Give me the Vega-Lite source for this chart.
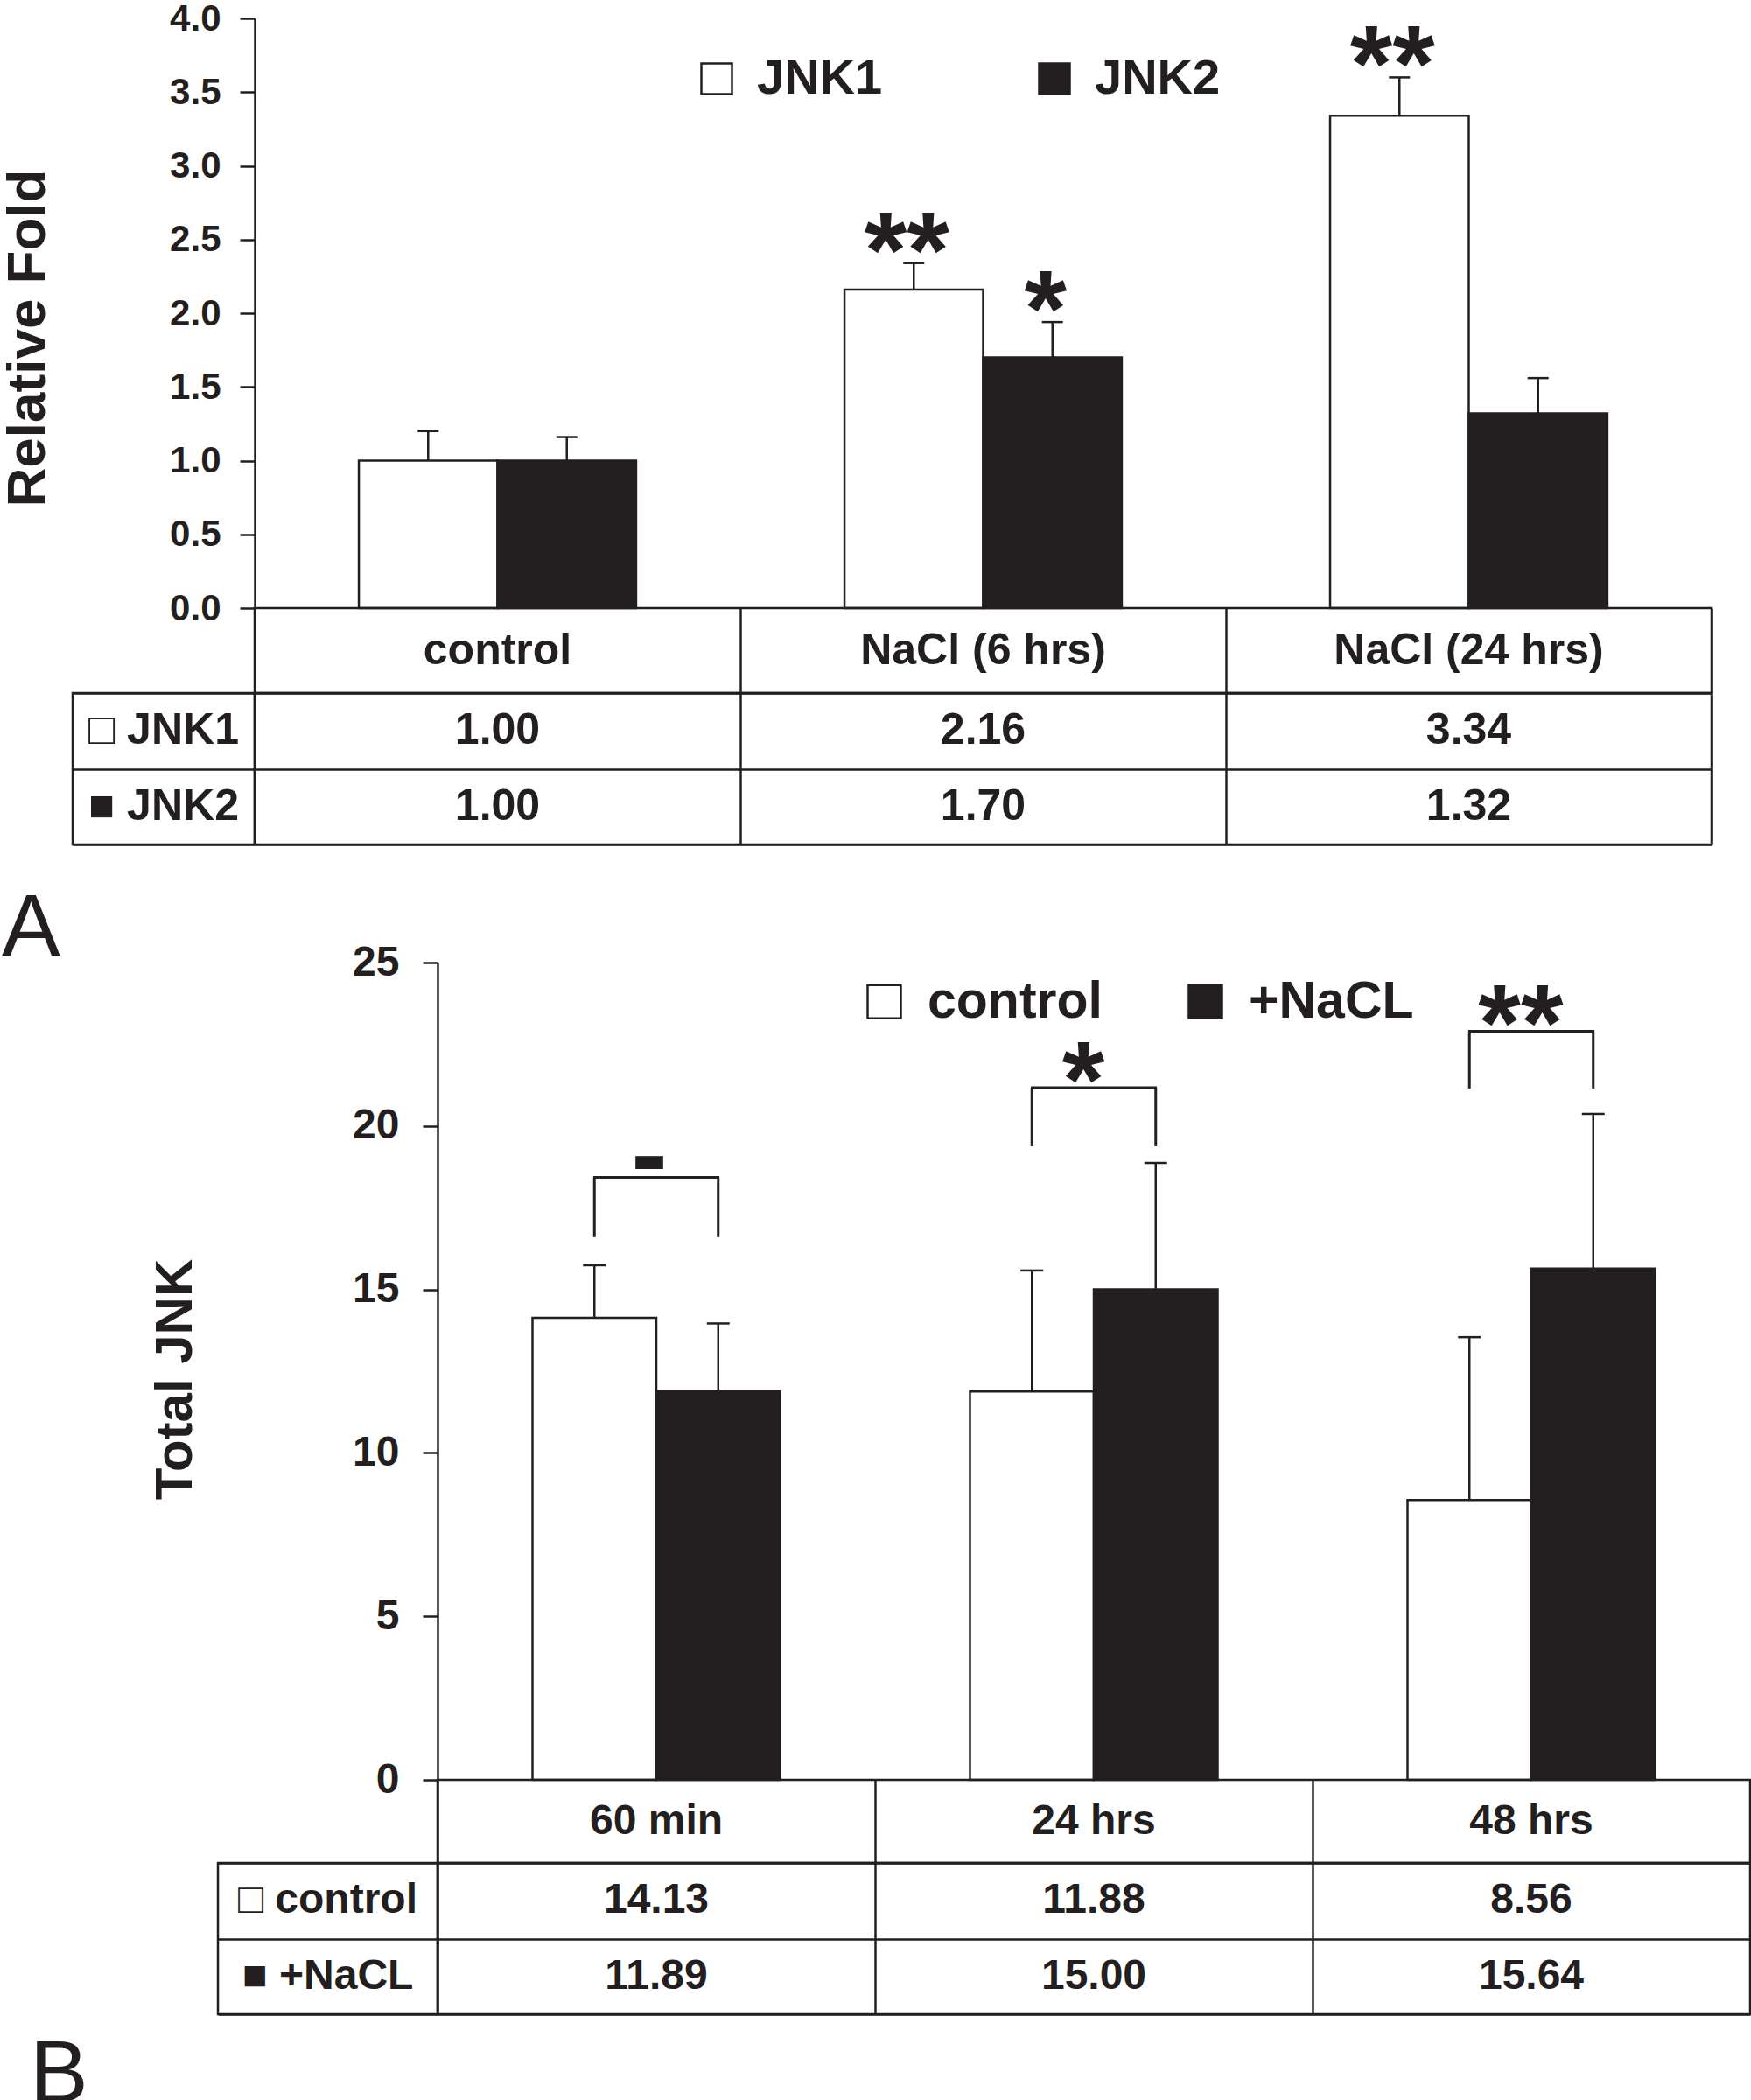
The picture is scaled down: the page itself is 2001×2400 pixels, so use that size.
{
  "$schema": "https://vega.github.io/schema/vega-lite/v6.json",
  "background": "white",
  "padding": 0,
  "columns": 1,
  "align": "each",
  "spacing": 45,
  "title": {"text": "B", "orient": "bottom", "anchor": "start", "frame": "group", "offset": 20, "dx": -49},
  "resolve": {"scale": {"fill": "independent", "xOffset": "independent"}, "legend": {"fill": "independent"}},
  "config": {
    "font": "Liberation Sans",
    "view": {"stroke": "#231f20", "strokeWidth": 2.5},
    "axis": {"labelColor": "#231f20", "titleColor": "#231f20", "domainColor": "#231f20", "tickColor": "#231f20", "labelFont": "Liberation Sans", "titleFont": "Liberation Sans", "labelFontWeight": "bold", "titleFontWeight": "bold"},
    "text": {"fontWeight": "bold", "color": "#231f20", "font": "Liberation Sans"},
    "title": {"font": "Liberation Sans", "fontWeight": "normal", "fontSize": 100, "color": "#231f20", "anchor": "start", "frame": "group"}
  },
  "datasets": {
    "a": [
      {"cat": "control", "series": "JNK1", "value": 1.00, "hi": 1.20, "sig": ""},
      {"cat": "control", "series": "JNK2", "value": 1.00, "hi": 1.16, "sig": ""},
      {"cat": "NaCl (6 hrs)", "series": "JNK1", "value": 2.16, "hi": 2.34, "sig": "**"},
      {"cat": "NaCl (6 hrs)", "series": "JNK2", "value": 1.70, "hi": 1.94, "sig": "*"},
      {"cat": "NaCl (24 hrs)", "series": "JNK1", "value": 3.34, "hi": 3.60, "sig": "**"},
      {"cat": "NaCl (24 hrs)", "series": "JNK2", "value": 1.32, "hi": 1.56, "sig": ""}
    ],
    "aCats": [{"cat": "control"}, {"cat": "NaCl (6 hrs)"}, {"cat": "NaCl (24 hrs)"}],
    "aRows": [{"series": "JNK1", "label": "□ JNK1"}, {"series": "JNK2", "label": "■ JNK2"}],
    "b": [
      {"cat": "60 min", "series": "control", "value": 14.13, "hi": 15.74, "btop": 18.43, "bbot": 16.6, "sig": "-"},
      {"cat": "60 min", "series": "+NaCL", "value": 11.89, "hi": 13.96, "btop": 18.43, "bbot": 16.6, "sig": "-"},
      {"cat": "24 hrs", "series": "control", "value": 11.88, "hi": 15.58, "btop": 21.17, "bbot": 19.38, "sig": "*"},
      {"cat": "24 hrs", "series": "+NaCL", "value": 15.00, "hi": 18.87, "btop": 21.17, "bbot": 19.38, "sig": "*"},
      {"cat": "48 hrs", "series": "control", "value": 8.56, "hi": 13.54, "btop": 22.9, "bbot": 21.15, "sig": "**"},
      {"cat": "48 hrs", "series": "+NaCL", "value": 15.64, "hi": 20.37, "btop": 22.9, "bbot": 21.15, "sig": "**"}
    ],
    "bCats": [{"cat": "60 min"}, {"cat": "24 hrs"}, {"cat": "48 hrs"}],
    "bRows": [{"series": "control", "label": "□ control"}, {"series": "+NaCL", "label": "■ +NaCL"}]
  },
  "concat": [
    {
      "columns": 2,
      "spacing": 0,
      "bounds": "flush",
      "align": "each",
      "concat": [
        {"width": 208, "height": 674, "data": {"values": []}, "mark": "point", "view": {"stroke": null}},
        {
          "width": 1665,
          "height": 674,
          "view": {"stroke": null},
          "data": {"name": "a"},
          "layer": [
            {
              "mark": {"type": "bar", "stroke": "#231f20", "strokeWidth": 2.5},
              "encoding": {
                "x": {"field": "cat", "type": "nominal", "sort": ["control", "NaCl (6 hrs)", "NaCl (24 hrs)"], "scale": {"paddingInner": 0.429, "paddingOuter": 0.2145}, "axis": null},
                "xOffset": {"field": "series", "type": "nominal", "scale": {"domain": ["JNK1", "JNK2"], "paddingInner": 0, "paddingOuter": 0}},
                "y": {"field": "value", "type": "quantitative", "title": "Relative Fold", "scale": {"domain": [0, 4], "nice": false},
                  "axis": {"values": [0, 0.5, 1, 1.5, 2, 2.5, 3, 3.5, 4], "format": ".1f", "labelFontSize": 42, "labelPadding": 22, "tickSize": 17, "tickWidth": 2.5, "domainWidth": 2.5, "grid": false, "titleFontSize": 62, "titlePadding": 130, "titleY": 365}},
                "fill": {"field": "series", "type": "nominal", "scale": {"domain": ["JNK1", "JNK2"], "range": ["white", "#231f20"]},
                  "legend": {"orient": "none", "legendX": 708, "legendY": 41, "direction": "horizontal", "title": null, "symbolType": "square", "symbolSize": 1225, "symbolStrokeColor": "#231f20", "symbolStrokeWidth": 2.5, "symbolOpacity": 1, "labelFontSize": 56, "labelFont": "Liberation Sans", "labelFontWeight": "bold", "labelColor": "#231f20", "labelOffset": 18, "labelLimit": 0, "columnPadding": 168, "padding": 0}}
              }
            },
            {
              "mark": {"type": "rule", "color": "#231f20", "strokeWidth": 2.5},
              "encoding": {
                "x": {"field": "cat", "type": "nominal", "sort": ["control", "NaCl (6 hrs)", "NaCl (24 hrs)"]},
                "xOffset": {"field": "series", "type": "nominal"},
                "y": {"field": "value", "type": "quantitative", "title": "Relative Fold"},
                "y2": {"field": "hi"}
              }
            },
            {
              "mark": {"type": "tick", "color": "#231f20", "size": 24, "thickness": 2.5, "opacity": 1},
              "encoding": {
                "x": {"field": "cat", "type": "nominal", "sort": ["control", "NaCl (6 hrs)", "NaCl (24 hrs)"]},
                "xOffset": {"field": "series", "type": "nominal"},
                "y": {"field": "hi", "type": "quantitative", "title": "Relative Fold"}
              }
            },
            {
              "mark": {"type": "text", "fontSize": 125, "fontWeight": "bold", "baseline": "alphabetic", "dy": 28, "dx": -8},
              "encoding": {
                "x": {"field": "cat", "type": "nominal", "sort": ["control", "NaCl (6 hrs)", "NaCl (24 hrs)"]},
                "xOffset": {"field": "series", "type": "nominal"},
                "y": {"field": "hi", "type": "quantitative", "title": "Relative Fold"},
                "text": {"field": "sig"}
              }
            }
          ]
        },
        {"width": 208, "height": 97, "data": {"values": []}, "mark": "point", "view": {"stroke": null}},
        {
          "width": 1665,
          "height": 97,
          "data": {"name": "aCats"},
          "mark": {"type": "text", "fontSize": 50},
          "encoding": {
            "x": {"field": "cat", "type": "nominal", "sort": ["control", "NaCl (6 hrs)", "NaCl (24 hrs)"], "scale": {"type": "band", "paddingInner": 0, "paddingOuter": 0},
              "axis": {"title": null, "labels": false, "ticks": false, "domain": false, "grid": true, "tickBand": "extent", "gridColor": "#231f20", "gridWidth": 2.5, "gridOpacity": 1}},
            "text": {"field": "cat"}
          }
        },
        {
          "width": 208,
          "height": 173,
          "data": {"name": "aRows"},
          "mark": {"type": "text", "fontSize": 50},
          "encoding": {
            "y": {"field": "series", "type": "nominal", "sort": ["JNK1", "JNK2"], "scale": {"type": "band", "paddingInner": 0, "paddingOuter": 0},
              "axis": {"title": null, "labels": false, "ticks": false, "domain": false, "grid": true, "tickBand": "extent", "gridColor": "#231f20", "gridWidth": 2.5, "gridOpacity": 1}},
            "text": {"field": "label"}
          }
        },
        {
          "width": 1665,
          "height": 173,
          "data": {"name": "a"},
          "mark": {"type": "text", "fontSize": 50},
          "encoding": {
            "x": {"field": "cat", "type": "nominal", "sort": ["control", "NaCl (6 hrs)", "NaCl (24 hrs)"], "scale": {"type": "band", "paddingInner": 0, "paddingOuter": 0},
              "axis": {"title": null, "labels": false, "ticks": false, "domain": false, "grid": true, "tickBand": "extent", "gridColor": "#231f20", "gridWidth": 2.5, "gridOpacity": 1}},
            "y": {"field": "series", "type": "nominal", "sort": ["JNK1", "JNK2"], "scale": {"type": "band", "paddingInner": 0, "paddingOuter": 0},
              "axis": {"title": null, "labels": false, "ticks": false, "domain": false, "grid": true, "tickBand": "extent", "gridColor": "#231f20", "gridWidth": 2.5, "gridOpacity": 1}},
            "text": {"field": "value", "type": "quantitative", "format": ".2f"}
          }
        }
      ]
    },
    {
      "columns": 3,
      "spacing": 0,
      "bounds": "flush",
      "align": "each",
      "title": {"text": "A", "orient": "top", "offset": -37, "dx": -81},
      "concat": [
        {"width": 166, "height": 934, "data": {"values": []}, "mark": "point", "view": {"stroke": null}},
        {"width": 251, "height": 934, "data": {"values": []}, "mark": "point", "view": {"stroke": null}},
        {
          "width": 1500,
          "height": 934,
          "view": {"stroke": null},
          "data": {"name": "b"},
          "layer": [
            {
              "mark": {"type": "bar", "stroke": "#231f20", "strokeWidth": 2.5},
              "encoding": {
                "x": {"field": "cat", "type": "nominal", "sort": ["60 min", "24 hrs", "48 hrs"], "scale": {"paddingInner": 0.434, "paddingOuter": 0.217}, "axis": null},
                "xOffset": {"field": "series", "type": "nominal", "scale": {"domain": ["control", "+NaCL"], "paddingInner": 0, "paddingOuter": 0}},
                "y": {"field": "value", "type": "quantitative", "title": "Total JNK", "scale": {"domain": [0, 25], "nice": false},
                  "axis": {"values": [0, 5, 10, 15, 20, 25], "labelFontSize": 48, "labelPadding": 27, "tickSize": 17, "tickWidth": 2.5, "domainWidth": 2.5, "grid": false, "titleFontSize": 60, "titlePadding": 171, "titleY": 476}},
                "fill": {"field": "series", "type": "nominal", "scale": {"domain": ["control", "+NaCL"], "range": ["white", "#231f20"]},
                  "legend": {"orient": "none", "legendX": 898, "legendY": 15, "direction": "horizontal", "title": null, "symbolType": "square", "symbolSize": 1444, "symbolStrokeColor": "#231f20", "symbolStrokeWidth": 2.5, "symbolOpacity": 1, "labelFontSize": 59, "labelFont": "Liberation Sans", "labelFontWeight": "bold", "labelColor": "#231f20", "labelOffset": 20, "labelLimit": 0, "columnPadding": 88, "padding": 0}}
              }
            },
            {
              "mark": {"type": "rule", "color": "#231f20", "strokeWidth": 2.5},
              "encoding": {
                "x": {"field": "cat", "type": "nominal", "sort": ["60 min", "24 hrs", "48 hrs"]},
                "xOffset": {"field": "series", "type": "nominal"},
                "y": {"field": "value", "type": "quantitative", "title": "Total JNK"},
                "y2": {"field": "hi"}
              }
            },
            {
              "mark": {"type": "tick", "color": "#231f20", "size": 26, "thickness": 2.5, "opacity": 1},
              "encoding": {
                "x": {"field": "cat", "type": "nominal", "sort": ["60 min", "24 hrs", "48 hrs"]},
                "xOffset": {"field": "series", "type": "nominal"},
                "y": {"field": "hi", "type": "quantitative", "title": "Total JNK"}
              }
            },
            {
              "mark": {"type": "rule", "color": "#231f20", "strokeWidth": 3},
              "encoding": {
                "x": {"field": "cat", "type": "nominal", "sort": ["60 min", "24 hrs", "48 hrs"]},
                "xOffset": {"field": "series", "type": "nominal"},
                "y": {"field": "bbot", "type": "quantitative", "title": "Total JNK"},
                "y2": {"field": "btop"}
              }
            },
            {
              "transform": [{"filter": "datum.series == 'control'"}],
              "mark": {"type": "tick", "color": "#231f20", "size": 144, "thickness": 3, "opacity": 1},
              "encoding": {
                "x": {"field": "cat", "type": "nominal", "sort": ["60 min", "24 hrs", "48 hrs"]},
                "y": {"field": "btop", "type": "quantitative", "title": "Total JNK"}
              }
            },
            {
              "transform": [{"filter": "datum.series == 'control' && datum.sig != '-'"}],
              "mark": {"type": "text", "fontSize": 125, "fontWeight": "bold", "baseline": "alphabetic", "dy": 34, "dx": -12},
              "encoding": {
                "x": {"field": "cat", "type": "nominal", "sort": ["60 min", "24 hrs", "48 hrs"]},
                "y": {"field": "btop", "type": "quantitative", "title": "Total JNK"},
                "text": {"field": "sig"}
              }
            },
            {
              "transform": [{"filter": "datum.series == 'control' && datum.sig == '-'"}],
              "mark": {"type": "text", "fontSize": 125, "fontWeight": "bold", "baseline": "alphabetic", "dy": 16, "dx": -8},
              "encoding": {
                "x": {"field": "cat", "type": "nominal", "sort": ["60 min", "24 hrs", "48 hrs"]},
                "y": {"field": "btop", "type": "quantitative", "title": "Total JNK"},
                "text": {"field": "sig"}
              }
            }
          ]
        },
        {"width": 166, "height": 95, "data": {"values": []}, "mark": "point", "view": {"stroke": null}},
        {"width": 251, "height": 95, "data": {"values": []}, "mark": "point", "view": {"stroke": null}},
        {
          "width": 1500,
          "height": 95,
          "data": {"name": "bCats"},
          "mark": {"type": "text", "fontSize": 48},
          "encoding": {
            "x": {"field": "cat", "type": "nominal", "sort": ["60 min", "24 hrs", "48 hrs"], "scale": {"type": "band", "paddingInner": 0, "paddingOuter": 0},
              "axis": {"title": null, "labels": false, "ticks": false, "domain": false, "grid": true, "tickBand": "extent", "gridColor": "#231f20", "gridWidth": 2.5, "gridOpacity": 1}},
            "text": {"field": "cat"}
          }
        },
        {"width": 166, "height": 173, "data": {"values": []}, "mark": "point", "view": {"stroke": null}},
        {
          "width": 251,
          "height": 173,
          "data": {"name": "bRows"},
          "mark": {"type": "text", "fontSize": 48},
          "encoding": {
            "y": {"field": "series", "type": "nominal", "sort": ["control", "+NaCL"], "scale": {"type": "band", "paddingInner": 0, "paddingOuter": 0},
              "axis": {"title": null, "labels": false, "ticks": false, "domain": false, "grid": true, "tickBand": "extent", "gridColor": "#231f20", "gridWidth": 2.5, "gridOpacity": 1}},
            "text": {"field": "label"}
          }
        },
        {
          "width": 1500,
          "height": 173,
          "data": {"name": "b"},
          "mark": {"type": "text", "fontSize": 48},
          "encoding": {
            "x": {"field": "cat", "type": "nominal", "sort": ["60 min", "24 hrs", "48 hrs"], "scale": {"type": "band", "paddingInner": 0, "paddingOuter": 0},
              "axis": {"title": null, "labels": false, "ticks": false, "domain": false, "grid": true, "tickBand": "extent", "gridColor": "#231f20", "gridWidth": 2.5, "gridOpacity": 1}},
            "y": {"field": "series", "type": "nominal", "sort": ["control", "+NaCL"], "scale": {"type": "band", "paddingInner": 0, "paddingOuter": 0},
              "axis": {"title": null, "labels": false, "ticks": false, "domain": false, "grid": true, "tickBand": "extent", "gridColor": "#231f20", "gridWidth": 2.5, "gridOpacity": 1}},
            "text": {"field": "value", "type": "quantitative", "format": ".2f"}
          }
        }
      ]
    }
  ]
}
